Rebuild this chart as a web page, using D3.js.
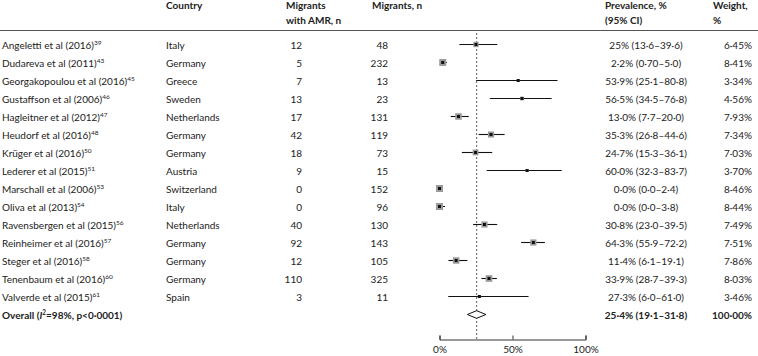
<!DOCTYPE html>
<html><head><meta charset="utf-8">
<script src="https://cdn.jsdelivr.net/npm/d3@7"></script>
<style>
body{margin:0;background:#fff;}
text{font-family:Lato, "Open Sans", sans-serif;font-size:10px;fill:#222;}
.b{font-weight:bold;}
</style></head><body>
<svg id="c" width="758" height="356"></svg>
<script>
const studies = ["Angeletti et al (2016)","Dudareva et al (2011)","Georgakopoulou et al (2016)","Gustaffson et al (2006)","Hagleitner et al (2012)","Heudorf et al (2016)","Krüger et al (2016)","Lederer et al (2015)","Marschall et al (2006)","Oliva et al (2013)","Ravensbergen et al (2015)","Reinheimer et al (2016)","Steger et al (2016)","Tenenbaum et al (2016)","Valverde et al (2015)"];
const refs = ["39","43","45","46","47","48","50","51","53","54","56","57","58","60","61"];
const countries = ["Italy","Germany","Greece","Sweden","Netherlands","Germany","Germany","Austria","Switzerland","Italy","Netherlands","Germany","Germany","Germany","Spain"];
const amrN = [12,5,7,13,17,42,18,9,0,0,40,92,12,110,3];
const migrantsN = [48,232,13,23,131,119,73,15,152,96,130,143,105,325,11];
const prev = [25,2.2,53.9,56.5,13.0,35.3,24.7,60.0,0.0,0.0,30.8,64.3,11.4,33.9,27.3];
const lo = [13.6,0.70,25.1,34.5,7.7,26.8,15.3,32.3,0.0,0.0,23.0,55.9,6.1,28.7,6.0];
const hi = [39.6,5.0,80.8,76.8,20.0,44.6,36.1,83.7,2.4,3.8,39.5,72.2,19.1,39.3,61.0];
const prevLabels = ["25% (13·6–39·6)","2·2% (0·70–5·0)","53·9% (25·1–80·8)","56·5% (34·5–76·8)","13·0% (7·7–20·0)","35·3% (26·8–44·6)","24·7% (15·3–36·1)","60·0% (32·3–83·7)","0·0% (0·0–2·4)","0·0% (0·0–3·8)","30·8% (23·0–39·5)","64·3% (55·9–72·2)","11·4% (6·1–19·1)","33·9% (28·7–39·3)","27·3% (6·0–61·0)"];
const weights = [6.45,8.41,3.34,4.56,7.93,7.34,7.03,3.70,8.46,8.44,7.49,7.51,7.86,8.03,3.46];
const weightLabels = ["6·45%","8·41%","3·34%","4·56%","7·93%","7·34%","7·03%","3·70%","8·46%","8·44%","7·49%","7·51%","7·86%","8·03%","3·46%"];
const overall = {est:25.4, lo:19.1, hi:31.8, label:"25·4% (19·1–31·8)", weight:"100·00%"};
const ticks = [0,50,100];

const svg = d3.select("#c");
const x = d3.scaleLinear().domain([0,100]).range([439.5,585.5]);
const y = d3.scaleLinear().domain([0,1]).range([44.5,62.5]);
const sz = d3.scaleLinear().domain([0,8.46]).range([0,7]);

// header
const H = svg.append("g").attr("class","hdr");
H.append("text").attr("class","b").attr("x",166).attr("y",9).text("Country");
H.append("text").attr("class","b").attr("x",286).attr("y",9).text("Migrants");
H.append("text").attr("class","b").attr("x",286).attr("y",24).text("with AMR, n");
H.append("text").attr("class","b").attr("x",372).attr("y",9).text("Migrants, n");
H.append("text").attr("class","b").attr("x",605).attr("y",9).text("Prevalence, %");
H.append("text").attr("class","b").attr("x",605).attr("y",24).text("(95% CI)");
H.append("text").attr("class","b").attr("x",713).attr("y",9).text("Weight,");
H.append("text").attr("class","b").attr("x",713).attr("y",24).text("%");
svg.append("line").attr("x1",0).attr("x2",758).attr("y1",30.5).attr("y2",30.5).attr("stroke","#555").attr("stroke-width",1);

// dashed reference line at pooled estimate
svg.append("line").attr("x1",x(overall.est)).attr("x2",x(overall.est)).attr("y1",33).attr("y2",339)
  .attr("stroke","#777").attr("stroke-width",1.2).attr("stroke-dasharray","2,2");

const idx = d3.range(studies.length);
const rows = svg.selectAll("g.row").data(idx).join("g").attr("class","row");
const st = rows.append("text").attr("x",2).attr("y",i=>y(i)+4);
st.append("tspan").text(i=>studies[i]);
st.append("tspan").attr("font-size","6.5px").attr("dy",-4).text(i=>refs[i]);
rows.append("text").attr("x",166).attr("y",i=>y(i)+4).text(i=>countries[i]);
rows.append("text").attr("x",302).attr("y",i=>y(i)+4).attr("text-anchor","end").text(i=>amrN[i]);
rows.append("text").attr("x",388).attr("y",i=>y(i)+4).attr("text-anchor","end").text(i=>migrantsN[i]);
rows.append("text").attr("x",646).attr("y",i=>y(i)+4).attr("text-anchor","middle").text(i=>prevLabels[i]);
rows.append("text").attr("x",752).attr("y",i=>y(i)+4).attr("text-anchor","end").text(i=>weightLabels[i]);
rows.append("line").attr("x1",i=>x(lo[i])).attr("x2",i=>x(hi[i])).attr("y1",i=>y(i)).attr("y2",i=>y(i)).attr("stroke","#111").attr("stroke-width",1.1);
rows.append("rect").attr("x",i=>x(prev[i])-sz(weights[i])/2).attr("y",i=>y(i)-sz(weights[i])/2)
  .attr("width",i=>sz(weights[i])).attr("height",i=>sz(weights[i])).attr("fill","#9a9a9a");
rows.append("rect").attr("x",i=>x(prev[i])-1.5).attr("y",i=>y(i)-1.5).attr("width",3).attr("height",3).attr("fill","#111");

// overall
const yo = y(15);
const ot = svg.append("text").attr("class","b").attr("x",2).attr("y",yo+4);
ot.append("tspan").text("Overall  (");
ot.append("tspan").attr("font-style","italic").text("I");
ot.append("tspan").attr("font-size","6.5px").attr("dy",-4).text("2");
ot.append("tspan").attr("dy",4).text("=98%, p<0·0001)");
svg.append("text").attr("class","b").attr("x",646).attr("y",yo+4).attr("text-anchor","middle").text(overall.label);
svg.append("text").attr("class","b").attr("x",752).attr("y",yo+4).attr("text-anchor","end").text(overall.weight);
const dpath = [[x(overall.lo),yo],[x(overall.est),yo-3.8],[x(overall.hi),yo],[x(overall.est),yo+3.8]];
svg.append("path").attr("d",d3.line()(dpath)+"Z").attr("fill","#fff").attr("stroke","#111").attr("stroke-width",1);

// axis
const ax = svg.append("g").attr("transform","translate(0,339.5)")
  .call(d3.axisBottom(x).tickValues(ticks).tickSize(-4).tickPadding(6).tickFormat(d=>d+"%"));
ax.select(".domain").attr("stroke","#333");
ax.selectAll(".tick line").attr("stroke","#333");
ax.selectAll("text").style("font-family","Lato, sans-serif").style("font-size","10px").attr("fill","#222");
</script></body></html>
